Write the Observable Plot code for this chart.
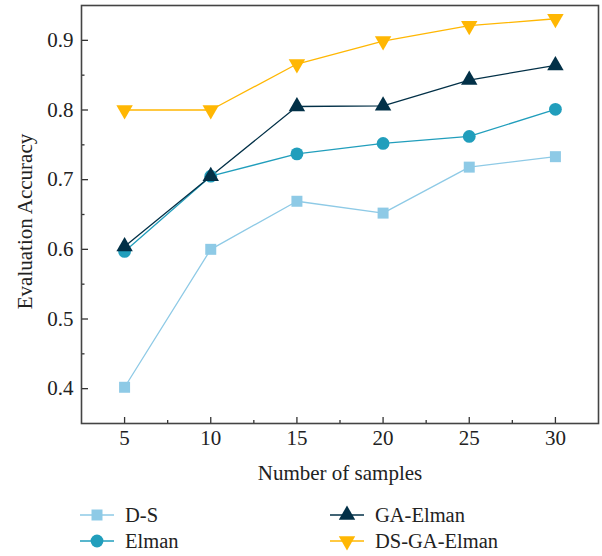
<!DOCTYPE html>
<html><head><meta charset="utf-8">
<script src="https://cdn.jsdelivr.net/npm/d3@7"></script>
<script src="https://cdn.jsdelivr.net/npm/@observablehq/plot@0.6"></script>
<style>
body{margin:0;background:#fff;font-family:"Liberation Serif","DejaVu Serif",serif;}
#wrap{position:relative;width:602px;height:556px;overflow:hidden;}
.lg{position:absolute;display:flex;align-items:center;font-size:20.5px;color:#222;height:24px;}
.lg svg{display:block;margin-right:11px;}
</style></head><body>
<div id="wrap"><div id="chart"></div></div>
<script>
const samples = [5, 10, 15, 20, 25, 30];
const dsValues = [0.402, 0.600, 0.669, 0.652, 0.718, 0.733];
const elmanValues = [0.597, 0.705, 0.737, 0.752, 0.762, 0.801];
const gaElmanValues = [0.604, 0.705, 0.805, 0.806, 0.843, 0.864];
const dsGaElmanValues = [0.800, 0.800, 0.866, 0.899, 0.921, 0.931];
const seriesNames = ["D-S", "Elman", "GA-Elman", "DS-GA-Elman"];
const seriesColors = ["#8ecae6", "#219ebc", "#023047", "#ffb703"];
const yTicks = [0.4, 0.5, 0.6, 0.7, 0.8, 0.9];
const yMinorTicks = [0.45, 0.55, 0.65, 0.75, 0.85];
const xTicks = [5, 10, 15, 20, 25, 30];
const xMinorTicks = [7.5, 12.5, 17.5, 22.5, 27.5];
const xLabel = "Number of samples";
const yLabel = "Evaluation Accuracy";

const seriesValues = [dsValues, elmanValues, gaElmanValues, dsGaElmanValues];
const symbols = [
  {symbol: "square", r: 6.2, rotate: 0},
  {symbol: "circle", r: 6.4, rotate: 0},
  {symbol: "triangle", r: 6.1, rotate: 0},
  {symbol: "triangle", r: 6.1, rotate: 180}
];
const data = seriesNames.flatMap((s, i) => samples.map((x, j) => ({series: s, x, y: seriesValues[i][j]})));

const W = 602, H = 490, mL = 81, mR = 4, mT = 5, mB = 67;
const plotW = W - mL - mR, plotH = H - mT - mB;

const chart = Plot.plot({
  width: W, height: H,
  marginLeft: mL, marginRight: mR, marginTop: mT, marginBottom: mB,
  style: {fontFamily: "'Liberation Serif', serif", fontSize: "21px", color: "#222", background: "#fff"},
  x: {domain: [2.5, 32.5]},
  y: {domain: [0.35, 0.95]},
  color: {domain: seriesNames, range: seriesColors},
  marks: [
    Plot.axisX({ticks: xTicks, tickSize: 0, tickPadding: 7, fontSize: 21, label: xLabel, labelAnchor: "center", labelOffset: 56, labelArrow: "none"}),
    Plot.axisY({ticks: yTicks, tickSize: 0, tickPadding: 8, fontSize: 21, tickFormat: d3.format(".1f"), label: null}),
    Plot.text([yLabel], {text: d => d, frameAnchor: "left", textAnchor: "middle", rotate: -90, dx: -56, dy: 7, fontSize: 21, fill: "#222"}),
    Plot.tickY(yTicks, {y: d => d, stroke: "#333", strokeWidth: 1.3, insetRight: plotW - 7}),
    Plot.tickY(yMinorTicks, {y: d => d, stroke: "#333", strokeWidth: 1.3, insetRight: plotW - 3.5}),
    Plot.tickX(xTicks, {x: d => d, stroke: "#333", strokeWidth: 1.3, insetTop: plotH - 6}),
    Plot.tickX(xMinorTicks, {x: d => d, stroke: "#333", strokeWidth: 1.3, insetTop: plotH - 3}),
    Plot.line(data, {x: "x", y: "y", z: "series", stroke: "series", strokeWidth: 1.3}),
    ...seriesNames.map((s, i) => Plot.dot(data.filter(d => d.series === s), {
      x: "x", y: "y", fill: "series", stroke: null,
      symbol: symbols[i].symbol, r: symbols[i].r, rotate: symbols[i].rotate
    })),
    Plot.frame({stroke: "#444", strokeWidth: 1.6})
  ]
});
document.getElementById("chart").appendChild(chart);

// legend
const wrap = document.getElementById("wrap");
const legendPos = [[80, 503], [80, 529], [330, 503], [330, 529]];
seriesNames.forEach((s, i) => {
  const div = document.createElement("div");
  div.className = "lg";
  div.style.left = legendPos[i][0] + "px";
  div.style.top = legendPos[i][1] + "px";
  const sym = d3.symbol(d3["symbol" + symbols[i].symbol[0].toUpperCase() + symbols[i].symbol.slice(1)], Math.PI * symbols[i].r ** 2)();
  div.innerHTML = `<svg width="34" height="20"><line x1="0" x2="34" y1="10" y2="10" stroke="${seriesColors[i]}" stroke-width="1.6"/>` +
    `<path d="${sym}" transform="translate(17,10) rotate(${symbols[i].rotate})" fill="${seriesColors[i]}"/></svg><span>${s}</span>`;
  wrap.appendChild(div);
});
</script>
</body></html>
